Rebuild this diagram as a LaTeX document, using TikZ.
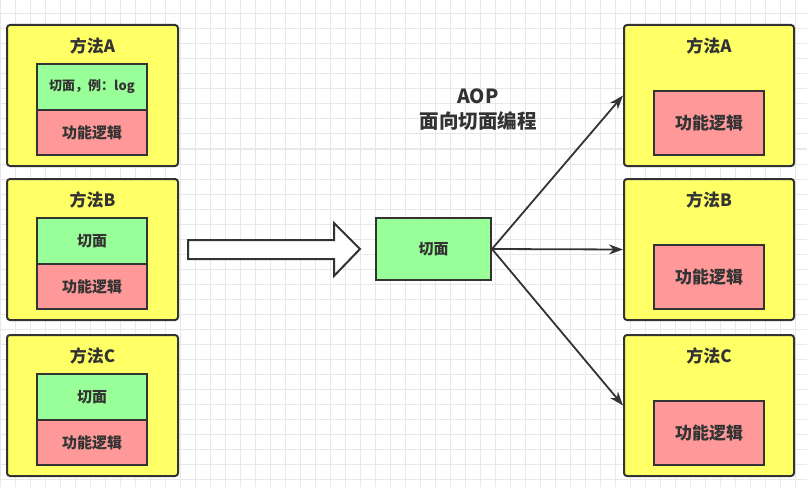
\documentclass[tikz,border=0pt]{standalone}
\usepackage{fontspec}
\setmainfont{Noto Sans CJK SC}
\usetikzlibrary{arrows.meta}
\definecolor{gridc}{HTML}{E8E8E8}
\definecolor{ink}{HTML}{333333}
\definecolor{yel}{HTML}{FFFF66}
\definecolor{grn}{HTML}{99FF99}
\definecolor{redc}{HTML}{FF9999}
\tikzset{
  outer/.style={draw=ink, line width=2pt, fill=yel, rounded corners=3pt, minimum width=171pt, minimum height=141pt, inner sep=0pt},
  ttl/.style={text=ink, font=\fontsize{17}{20}\selectfont\bfseries, inner sep=0pt},
  gbox/.style={draw=ink, line width=2pt, fill=grn, minimum width=110pt, minimum height=46pt, inner sep=0pt, text=ink, font=\fontsize{15}{18}\selectfont\bfseries},
  rbox/.style={draw=ink, line width=2pt, fill=redc, minimum width=110pt, minimum height=45pt, inner sep=0pt, text=ink, font=\fontsize{15}{18}\selectfont\bfseries},
  conn/.style={draw=ink, line width=1.8pt, -{Stealth[length=14pt,width=10pt]}},
}
\begin{document}
\begin{tikzpicture}[x=1pt,y=-1pt]
\useasboundingbox (0,0) rectangle (807,487);
\fill[white] (0,0) rectangle (807,487);
% grid
\foreach \gx in {0,15,...,810} \draw[gridc, line width=1pt] (\gx,0) -- (\gx,487);
\foreach \gy in {14,29,...,487} \draw[gridc, line width=1pt] (0,\gy) -- (807,\gy);
% left column
\node[outer] (lA) at (92.5,95.5) {};
\node[ttl] (lAt) at (92.5,45.5) {方法A};
\node[gbox, font=\fontsize{13}{16}\selectfont\bfseries] (lAg) at (92,87) {切面，例：log};
\node[rbox] (lAr) at (92,132.5) {功能逻辑};
\node[outer] (lB) at (92.5,249.5) {};
\node[ttl] (lBt) at (92.5,199.5) {方法B};
\node[gbox] (lBg) at (92,241) {切面};
\node[rbox] (lBr) at (92,286.5) {功能逻辑};
\node[outer] (lC) at (92.5,405.5) {};
\node[ttl] (lCt) at (92.5,356) {方法C};
\node[gbox] (lCg) at (92,397) {切面};
\node[rbox] (lCr) at (92,442.5) {功能逻辑};
% big arrow
\draw[ink, line width=2pt, fill=white, line join=miter]
  (188,240) -- (334,240) -- (334,223) -- (360,249) -- (334,276) -- (334,259) -- (188,259) -- cycle;
% center
\node[gbox, minimum width=115pt, minimum height=62pt] (cut) at (433.5,249) {切面};
\node[text=ink, font=\fontsize{19.5}{25}\selectfont\bfseries, align=center, inner sep=0pt] (aop) at (478,110) {AOP\\面向切面编程};
% right column
\node[outer, minimum width=170pt] (rA) at (709,95.5) {};
\node[ttl] (rAt) at (709,45.5) {方法A};
\node[rbox, minimum height=64pt, font=\fontsize{17}{20}\selectfont\bfseries] (rAr) at (709,123) {功能逻辑};
\node[outer, minimum width=170pt] (rB) at (709,249.5) {};
\node[ttl] (rBt) at (709,199.5) {方法B};
\node[rbox, minimum height=64pt, font=\fontsize{17}{20}\selectfont\bfseries] (rBr) at (709,277) {功能逻辑};
\node[outer, minimum width=170pt] (rC) at (709,405.5) {};
\node[ttl] (rCt) at (709,356) {方法C};
\node[rbox, minimum height=64pt, font=\fontsize{17}{20}\selectfont\bfseries] (rCr) at (709,433) {功能逻辑};
% connectors
\draw[conn] (cut.east) -- (rA.west);
\draw[conn] (cut.east) -- (rB.west);
\draw[conn] (cut.east) -- (rC.west);
\end{tikzpicture}
\end{document}
